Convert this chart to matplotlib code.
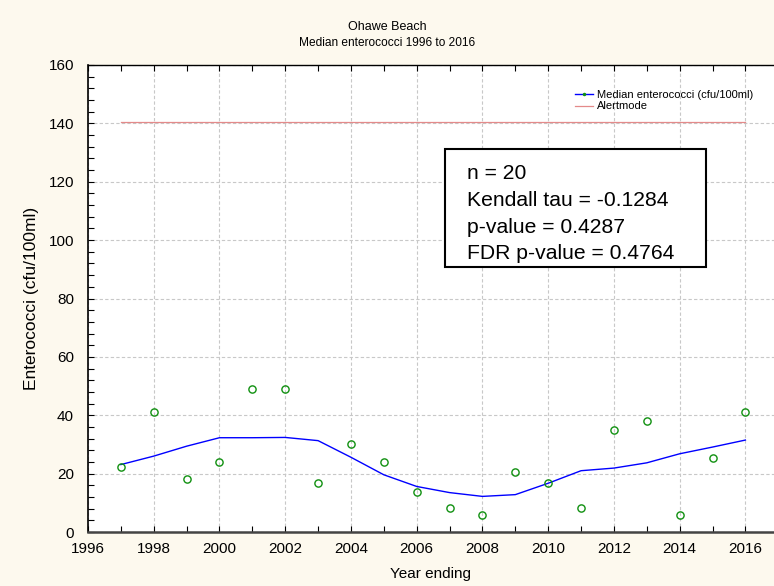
import matplotlib
matplotlib.use("Agg")
import matplotlib.pyplot as plt
from matplotlib.ticker import MultipleLocator
from matplotlib.lines import Line2D
from matplotlib.patches import Rectangle

plt.rcParams['font.family'] = ['Liberation Sans', 'DejaVu Sans']

years = [1997, 1998, 1999, 2000, 2001, 2002, 2003, 2004, 2005, 2006,
         2007, 2008, 2009, 2010, 2011, 2012, 2013, 2014, 2015, 2016]
median_entero = [22.3, 41.1, 18.3, 23.9, 49.0, 49.0, 16.7, 30.1, 23.9, 13.6,
                 8.2, 5.7, 20.7, 16.8, 8.2, 34.8, 37.9, 5.7, 25.3, 41.1]
smooth = [23.1, 26.0, 29.4, 32.3, 32.3, 32.4, 31.3, 25.6, 19.6, 15.6,
          13.5, 12.2, 12.8, 16.7, 21.0, 21.9, 23.7, 26.8, 29.1, 31.5]
alert_years = [1997, 2016]
alert_value = [140.5, 140.5]

bg = '#fdf9ee'
fig = plt.figure(figsize=(7.74, 5.86), dpi=100, facecolor=bg)
ax = fig.add_axes([88/774, 54/586, (774-88)/774, 467/586])
ax.set_facecolor('white')

ax.plot(alert_years, alert_value, color='#e48a8a', lw=0.9, zorder=3)
ax.plot(years, smooth, color='#0000ff', lw=1.0, zorder=4)
ax.plot(years, median_entero, linestyle='none', marker='o', markersize=5.2,
        markerfacecolor='none', markeredgecolor='#109010', markeredgewidth=1.0, zorder=5)

ax.set_xlim(1996, 2016.87)
ax.set_ylim(0, 160)
ax.xaxis.set_major_locator(MultipleLocator(2))
ax.xaxis.set_minor_locator(MultipleLocator(1))
ax.yaxis.set_major_locator(MultipleLocator(20))
ax.yaxis.set_minor_locator(MultipleLocator(4))
ax.grid(True, which='major', color='#c8c8c8', linestyle=(0, (3, 2)), lw=0.8)
ax.set_axisbelow(True)

ax.tick_params(axis='both', which='both', direction='in', labelsize=11, colors='black')
ax.tick_params(axis='x', which='both', top=True, length=4, width=0.8)
ax.tick_params(axis='y', which='both', length=4, width=0.8)
ax.tick_params(axis='x', which='major', pad=7)
ax.tick_params(axis='y', which='major', pad=10)

ax.spines['right'].set_visible(False)
ax.spines['bottom'].set_linewidth(1.8)
ax.spines['bottom'].set_color('#444444')
ax.spines['left'].set_linewidth(1.2)
ax.spines['top'].set_linewidth(1.0)

ax.set_xlabel('Year ending', fontsize=11, labelpad=8)
ax.set_ylabel('Enterococci (cfu/100ml)', fontsize=12.5, labelpad=7)

fig.text(0.5, 1 - 27/586, 'Ohawe Beach', ha='center', va='center', fontsize=9)
fig.text(0.5, 1 - 43/586, 'Median enterococci 1996 to 2016', ha='center', va='center', fontsize=8.6)

handles = [Line2D([0], [0], color='#0000ff', lw=1.0, marker='.', markersize=3,
                  markerfacecolor='#109010', markeredgecolor='#109010'),
           Line2D([0], [0], color='#e48a8a', lw=0.9)]
leg = ax.legend(handles, ['Median enterococci (cfu/100ml)', 'Alertmode'],
                loc='upper left', bbox_to_anchor=((567-88)/686, (532-82)/467),
                frameon=False, fontsize=8, handlelength=1.6, handletextpad=0.4,
                labelspacing=0.15, borderpad=0.2)

box = Rectangle(((445-88)/686, (532-267)/467), (706-445)/686, (267-149)/467,
                transform=ax.transAxes, facecolor='white', edgecolor='black',
                lw=1.5, zorder=6)
ax.add_patch(box)
ax.text((467-88)/686, (532-164)/467,
        'n = 20\nKendall tau = -0.1284\np-value = 0.4287\nFDR p-value = 0.4764',
        transform=ax.transAxes, ha='left', va='top', fontsize=15.2, linespacing=1.52,
        zorder=7)

fig.savefig('out.png', dpi=100, facecolor=bg)
